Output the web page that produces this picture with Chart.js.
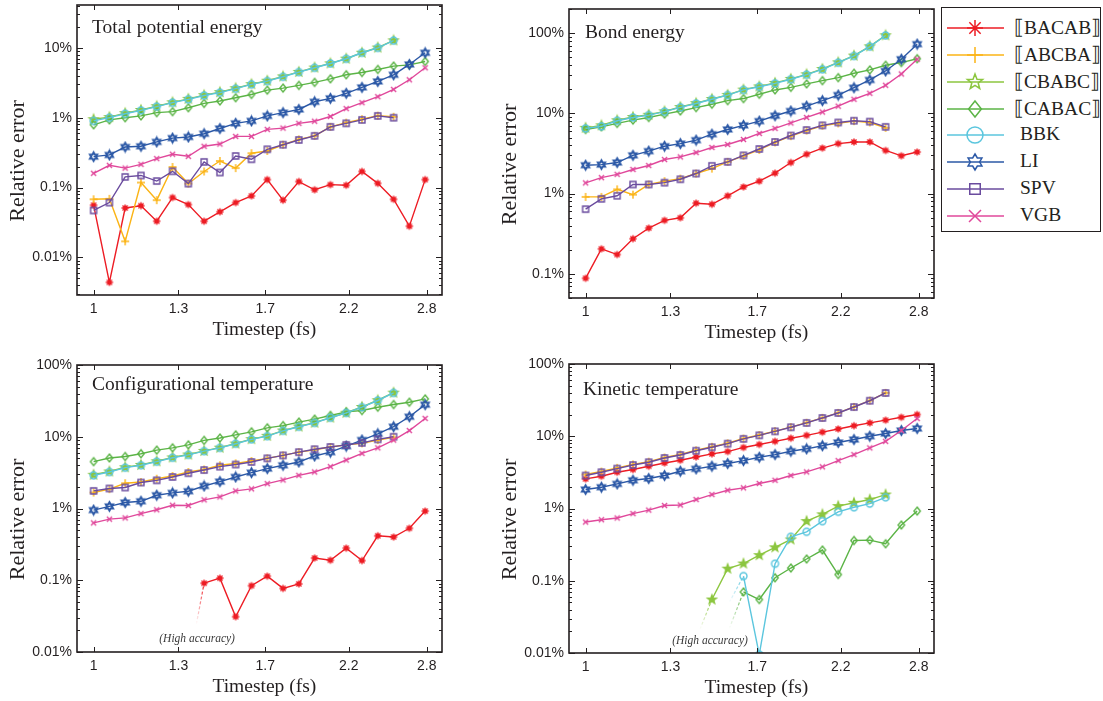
<!DOCTYPE html>
<html>
<head>
<meta charset="utf-8">
<script src="https://cdn.jsdelivr.net/npm/chart.js@4.4.1/dist/chart.umd.min.js"></script>
<style>
  body { margin: 0; background: #fff; width: 1103px; height: 701px; position: relative; overflow: hidden; }
  canvas.panel { position: absolute; }
  #legend { position: absolute; left: 941px; top: 7px; width: 160px; height: 225px; border: 1.3px solid #231f20; box-sizing: border-box; }
  .lg-row { position: absolute; height: 24px; }
  .lg-row canvas { position: absolute; left: 0; top: 1px; }
  .lg-row span { position: absolute; top: 0; line-height: 24px; font: 19.5px "Liberation Serif", serif; color: #231f20; white-space: nowrap; }
</style>
</head>
<body>
<canvas id="pot" class="panel"></canvas>
<canvas id="bond" class="panel"></canvas>
<canvas id="conf" class="panel"></canvas>
<canvas id="kin" class="panel"></canvas>
<div id="legend"></div>

<script>
const _ = null;

// timesteps (fs), tick positions
const timestep = [1.0, 1.05, 1.1025, 1.1576, 1.2155, 1.2763, 1.3401, 1.4071, 1.4775, 1.5513, 1.6289,
                  1.7103, 1.7959, 1.8856, 1.9799, 2.0789, 2.1829, 2.292, 2.4066, 2.527, 2.6533, 2.786];
const xTicks = [1, 1.3, 1.7, 2.2, 2.8];
const yTicks = [0.01, 0.1, 1, 10, 100];

const names = ['⟦BACAB⟧', '⟦ABCBA⟧', '⟦CBABC⟧', '⟦CABAC⟧', 'BBK', 'LI', 'SPV', 'VGB'];

// relative error in %, one row per integrator (same order as names)
const potential = [
  [0.056, 0.0044, 0.051, 0.055, 0.033, 0.072, 0.057, 0.033, 0.045, 0.061, 0.076, 0.13, 0.066, 0.122, 0.093, 0.11, 0.108, 0.17, 0.115, 0.068, 0.028, 0.13],
  [0.068, 0.069, 0.017, 0.118, 0.066, 0.197, 0.114, 0.17, 0.24, 0.19, 0.31, 0.334, 0.41, 0.49, 0.55, 0.74, 0.85, 0.95, 1.07, 1.03, _, _],
  [0.95, 1.02, 1.16, 1.29, 1.46, 1.66, 1.86, 2.1, 2.32, 2.64, 3.02, 3.38, 3.9, 4.52, 5.22, 6.0, 7.0, 8.5, 10.1, 12.8, _, _],
  [0.79, 0.93, 1.0, 1.06, 1.18, 1.22, 1.39, 1.6, 1.73, 1.93, 2.15, 2.48, 2.65, 2.9, 3.2, 3.6, 4.11, 4.44, 4.9, 5.47, 5.7, 6.38],
  [0.9, 1.0, 1.14, 1.27, 1.44, 1.64, 1.83, 2.08, 2.28, 2.6, 3.0, 3.34, 3.85, 4.49, 5.18, 5.97, 6.97, 8.49, 10.0, 12.7, _, _],
  [0.277, 0.293, 0.38, 0.39, 0.45, 0.51, 0.53, 0.59, 0.7, 0.83, 0.9, 1.06, 1.18, 1.31, 1.69, 1.89, 2.23, 2.71, 3.3, 4.11, 5.78, 8.49],
  [0.047, 0.061, 0.142, 0.149, 0.124, 0.171, 0.114, 0.233, 0.164, 0.283, 0.254, 0.353, 0.41, 0.48, 0.55, 0.74, 0.83, 0.93, 1.06, 1.0, _, _],
  [0.16, 0.208, 0.19, 0.215, 0.26, 0.3, 0.28, 0.39, 0.42, 0.54, 0.54, 0.68, 0.71, 0.83, 0.89, 1.04, 1.35, 1.64, 2.0, 2.54, 3.49, 5.18]
];

const bond = [
  [0.088, 0.205, 0.174, 0.274, 0.372, 0.464, 0.5, 0.76, 0.736, 0.94, 1.21, 1.43, 1.8, 2.44, 3.1, 3.69, 4.2, 4.4, 4.4, 3.45, 2.96, 3.3],
  [0.91, 0.91, 1.13, 0.97, 1.3, 1.43, 1.54, 1.78, 2.05, 2.49, 2.95, 3.5, 4.35, 5.2, 6.1, 7.0, 7.5, 8.0, 7.7, 6.6, _, _],
  [6.6, 7.1, 8.2, 9.0, 9.6, 10.6, 12.0, 13.4, 15.1, 17.0, 19.8, 21.7, 24.0, 26.9, 30.7, 35.8, 43.3, 52.5, 68.5, 94, _, _],
  [6.3, 6.8, 7.5, 8.25, 8.9, 9.8, 10.7, 11.8, 13.0, 14.4, 15.3, 17.3, 19.6, 21.1, 23.3, 25.6, 27.9, 31.6, 34.8, 39.8, 43, 48],
  [6.5, 6.9, 8.1, 8.9, 9.5, 10.5, 11.9, 13.3, 15.0, 16.9, 19.6, 21.5, 23.7, 26.6, 30.4, 35.4, 42.9, 52, 68, 93.5, _, _],
  [2.26, 2.3, 2.44, 3.0, 3.38, 3.9, 4.2, 4.64, 5.5, 6.3, 7.1, 8.0, 9.35, 10.7, 12.3, 14.4, 16.9, 20.9, 26.1, 33.8, 47.3, 72.9],
  [0.64, 0.86, 0.94, 1.3, 1.3, 1.37, 1.51, 1.78, 2.22, 2.49, 3.0, 3.6, 4.4, 5.3, 6.2, 7.1, 7.7, 8.1, 7.9, 6.8, _, _],
  [1.36, 1.58, 1.74, 2.0, 2.24, 2.66, 2.87, 3.25, 3.76, 4.1, 4.73, 5.62, 6.5, 7.6, 8.9, 10.4, 12.3, 15, 17.8, 22.4, 31, 47.3]
];

const configTemp = [
  [_, _, _, _, _, _, _, 0.091, 0.107, 0.031, 0.084, 0.114, 0.077, 0.089, 0.204, 0.19, 0.28, 0.188, 0.417, 0.4, 0.53, 0.92],
  [1.67, 1.86, 2.25, 2.34, 2.6, 2.84, 3.23, 3.5, 4.0, 4.26, 4.6, 5.0, 5.5, 6.1, 6.6, 7.2, 7.7, 8.1, 9.0, 9.8, _, _],
  [2.95, 3.28, 3.76, 4.05, 4.55, 5.15, 5.65, 6.35, 7.05, 8.05, 9.25, 10.3, 12.2, 13.9, 15.7, 18.5, 21.6, 26, 32.3, 41.2, _, _],
  [4.5, 5.06, 5.3, 5.8, 6.5, 7.0, 7.7, 8.9, 9.6, 10.6, 11.7, 13.3, 14.3, 16, 17.6, 19.8, 22.2, 23.2, 25.8, 28.1, 30.3, 33.7],
  [2.9, 3.23, 3.71, 4.0, 4.5, 5.1, 5.6, 6.3, 7.0, 8.0, 9.2, 10.2, 12.1, 13.8, 15.6, 18.4, 21.5, 25.8, 32, 40.8, _, _],
  [0.95, 1.07, 1.21, 1.26, 1.53, 1.65, 1.74, 2.06, 2.37, 2.75, 3.16, 3.6, 4.0, 4.45, 5.4, 6.1, 7.4, 9.0, 11, 13.8, 19, 28],
  [1.76, 1.9, 1.96, 2.3, 2.47, 2.75, 3.1, 3.44, 3.83, 4.1, 4.45, 5.0, 5.5, 6.1, 6.7, 7.2, 7.7, 8.2, 9.2, 10.0, _, _],
  [0.63, 0.71, 0.74, 0.85, 0.96, 1.11, 1.1, 1.32, 1.45, 1.76, 1.88, 2.22, 2.5, 2.9, 3.23, 3.83, 4.74, 5.86, 7.0, 9.0, 12.2, 18]
];

const kineticTemp = [
  [2.57, 2.8, 3.18, 3.46, 3.85, 4.27, 4.66, 5.17, 5.7, 6.14, 7.0, 7.7, 8.5, 9.4, 10.3, 11.4, 12.6, 14.0, 15.3, 16.7, 18.3, 20],
  [2.95, 3.25, 3.65, 4.08, 4.45, 5.08, 5.6, 6.4, 7.15, 8.0, 9.3, 10.4, 11.8, 13.4, 15.4, 18.0, 21.1, 25.5, 31.2, 39.9, _, _],
  [_, _, _, _, _, _, _, _, 0.055, 0.147, 0.173, 0.226, 0.29, 0.373, 0.67, 0.83, 1.08, 1.2, 1.33, 1.56, _, _],
  [_, _, _, _, _, _, _, _, _, _, 0.07, 0.055, 0.11, 0.15, 0.2, 0.266, 0.122, 0.36, 0.365, 0.325, 0.59, 0.92],
  [_, _, _, _, _, _, _, _, _, _, 0.116, 0.0095, 0.172, 0.406, 0.476, 0.668, 0.9, 1.04, 1.17, 1.43, _, _],
  [1.83, 1.97, 2.19, 2.46, 2.6, 2.86, 3.28, 3.54, 3.85, 4.19, 4.6, 5.12, 5.57, 6.2, 6.7, 7.4, 8.2, 9.0, 10.0, 10.9, 12.0, 12.8],
  [2.86, 3.18, 3.57, 4.0, 4.37, 5.0, 5.5, 6.3, 7.05, 7.9, 9.2, 10.3, 11.7, 13.3, 15.3, 17.9, 21, 25.4, 31, 39.7, _, _],
  [0.65, 0.7, 0.74, 0.85, 0.95, 1.1, 1.12, 1.33, 1.56, 1.79, 1.93, 2.22, 2.46, 2.86, 3.21, 3.77, 4.6, 5.57, 6.9, 8.5, 12, 17.6]
];

// dashed lead-ins below the first plotted point: [series, timestep, error %]
const configTails = [[0, 1.374, 0.0245]];
const kineticTails = [[2, 1.424, 0.0212], [4, 1.559, 0.05], [3, 1.559, 0.0217]];

const ink = '#231f20';
const colors = ['#ed1c24', '#fbb416', '#8cc63f', '#5bb446', '#5bc6de', '#2b58a6', '#6a4b9e', '#e0489b'];
const markKinds = ['asterisk', 'plus', 'star', 'diamond', 'circle', 'hexagram', 'square', 'cross'];

function makeMarker(kind, color, r, big) {
  const size = Math.ceil(2 * r + 4);
  const c = document.createElement('canvas');
  c.width = c.height = size;
  const g = c.getContext('2d');
  const m = size / 2;
  g.strokeStyle = color;
  g.fillStyle = color;
  g.lineWidth = big ? 1.5 : (kind === 'hexagram' ? 2 : 1.4);
  g.lineJoin = 'miter';
  g.beginPath();
  const poly = (n, inner, start) => {
    for (let i = 0; i < 2 * n; i++) {
      const rr = i % 2 ? r * inner : r;
      const a = start + i * Math.PI / n;
      i ? g.lineTo(m + rr * Math.cos(a), m + rr * Math.sin(a)) : g.moveTo(m + rr * Math.cos(a), m + rr * Math.sin(a));
    }
    g.closePath();
  };
  switch (kind) {
    case 'asterisk':
      for (let i = 0; i < 4; i++) {
        const a = i * Math.PI / 4;
        g.moveTo(m + r * Math.cos(a), m + r * Math.sin(a));
        g.lineTo(m - r * Math.cos(a), m - r * Math.sin(a));
      }
      g.stroke();
      if (!big) { g.beginPath(); g.arc(m, m, r * 0.6, 0, 2 * Math.PI); g.fill(); }
      break;
    case 'plus':
      g.moveTo(m - r, m); g.lineTo(m + r, m);
      g.moveTo(m, m - r); g.lineTo(m, m + r);
      g.stroke();
      break;
    case 'cross':
      const d = r * 0.75;
      g.moveTo(m - d, m - d); g.lineTo(m + d, m + d);
      g.moveTo(m - d, m + d); g.lineTo(m + d, m - d);
      g.stroke();
      break;
    case 'star':
      poly(5, 0.42, -Math.PI / 2);
      big ? g.stroke() : (g.fill(), g.stroke());
      break;
    case 'hexagram':
      poly(6, 0.58, -Math.PI / 2);
      g.stroke();
      break;
    case 'diamond':
      g.moveTo(m, m - r); g.lineTo(m + r * 0.8, m); g.lineTo(m, m + r); g.lineTo(m - r * 0.8, m);
      g.closePath();
      g.stroke();
      break;
    case 'circle':
      g.arc(m, m, r, 0, 2 * Math.PI);
      g.stroke();
      break;
    case 'square':
      g.rect(m - r * 0.75, m - r * 0.75, r * 1.5, r * 1.5);
      g.stroke();
      break;
  }
  return c;
}

const plotSizes = [3.6, 4, 4.6, 4, 3.5, 4.2, 4, 3.4];
const plotMarks = markKinds.map((k, i) => makeMarker(k, colors[i], plotSizes[i], false));

function fading(color, end, start) {
  return ctx => {
    const ch = ctx.chart;
    if (!ch.chartArea) return color;
    const y0 = ch.scales.y.getPixelForValue(end), y1 = ch.scales.y.getPixelForValue(start);
    const gr = ch.ctx.createLinearGradient(0, y0, 0, y1);
    gr.addColorStop(0, color + '00');
    gr.addColorStop(1, color);
    return gr;
  };
}

function buildSets(rows, tails) {
  const sets = rows.map((vals, i) => ({
    label: names[i],
    data: timestep.map((t, k) => ({ x: t, y: vals[k] })).filter(p => p.y !== null),
    borderColor: colors[i],
    backgroundColor: colors[i],
    borderWidth: 1.4,
    pointStyle: plotMarks[i],
    pointRadius: 4,
    pointHoverRadius: 4,
    tension: 0,
    order: 10 - i
  }));
  (tails || []).forEach(([i, tx, ty]) => {
    const first = sets[i].data[0];
    sets.push({
      data: [{ x: tx, y: ty }, first],
      borderColor: fading(colors[i], ty, first.y),
      borderWidth: 1.2,
      borderDash: [3, 2],
      pointRadius: 0,
      order: 20
    });
  });
  return sets;
}

// frame with inward ticks, panel caption and optional note
const panelDecor = {
  id: 'panelDecor',
  afterDatasetsDraw(chart, args, opts) {
    const { ctx, chartArea: a, scales: { x, y } } = chart;
    ctx.save();
    ctx.strokeStyle = ink;
    ctx.lineWidth = 1;
    ctx.beginPath();
    xTicks.forEach(v => {
      const px = Math.round(x.getPixelForValue(v)) + 0.5;
      ctx.moveTo(px, a.bottom); ctx.lineTo(px, a.bottom - 5);
      ctx.moveTo(px, a.top); ctx.lineTo(px, a.top + 5);
    });
    for (let e = -3; e <= 2; e++) {
      for (let m = 1; m <= 9; m++) {
        const v = m * Math.pow(10, e);
        if (v < y.min || v > y.max) continue;
        const py = Math.round(y.getPixelForValue(v)) + 0.5;
        const len = m === 1 ? 6 : 3;
        ctx.moveTo(a.left, py); ctx.lineTo(a.left + len, py);
        ctx.moveTo(a.right, py); ctx.lineTo(a.right - len, py);
      }
    }
    ctx.stroke();
    ctx.lineWidth = 1.6;
    ctx.strokeRect(a.left, a.top, a.right - a.left, a.bottom - a.top);

    ctx.fillStyle = ink;
    ctx.font = '19.5px "Liberation Serif", serif';
    ctx.textBaseline = 'alphabetic';
    ctx.textAlign = 'left';
    ctx.fillText(opts.title, a.left + opts.dx, a.top + opts.dy);
    if (opts.note) {
      ctx.font = 'italic 11.5px "Liberation Serif", serif';
      ctx.fillStyle = '#3a3a3a';
      ctx.textAlign = 'center';
      ctx.textBaseline = 'middle';
      ctx.fillText('(High accuracy)', x.getPixelForValue(opts.note[0]), y.getPixelForValue(opts.note[1]));
    }
    ctx.restore();
  }
};

// canvas box [left, top, width, height] and plot area [left, top, right, bottom] in page pixels
const panels = [
  { id: 'pot', rows: potential, title: 'Total potential energy', dx: 15, dy: 28,
    yMin: 0.0029, yMax: 41, box: [0, -20, 470, 365], area: [77, 5, 442, 295], yTitleX: 18, xTitleY: 330 },
  { id: 'bond', rows: bond, title: 'Bond energy', dx: 16, dy: 28.5,
    yMin: 0.05, yMax: 200, box: [490, -20, 450, 365], area: [569, 9, 934, 298], yTitleX: 510, xTitleY: 333 },
  { id: 'conf', rows: configTemp, tails: configTails, title: 'Configurational temperature', dx: 15, dy: 25,
    note: [1.377, 0.0152],
    yMin: 0.01, yMax: 100, box: [0, 345, 470, 356], area: [77, 365, 442, 652], yTitleX: 18, xTitleY: 687 },
  { id: 'kin', rows: kineticTemp, tails: kineticTails, title: 'Kinetic temperature', dx: 14, dy: 30.5,
    note: [1.469, 0.0149],
    yMin: 0.01, yMax: 100, box: [490, 345, 450, 356], area: [569, 364, 934, 653], yTitleX: 510, xTitleY: 688 }
];

const tickFont = { family: '"Liberation Sans", Arial, sans-serif', size: 14 };
const titleFontY = { family: '"Liberation Serif", serif', size: 22 };
const titleFontX = { family: '"Liberation Serif", serif', size: 19.5 };

panels.forEach(p => {
  const [bx, by, bw, bh] = p.box;
  const [al, at, ar, ab] = p.area;
  const cv = document.getElementById(p.id);
  cv.width = bw; cv.height = bh;
  cv.style.left = bx + 'px'; cv.style.top = by + 'px';
  cv.style.width = bw + 'px'; cv.style.height = bh + 'px';

  new Chart(cv, {
    type: 'line',
    data: { datasets: buildSets(p.rows, p.tails) },
    plugins: [panelDecor],
    options: {
      responsive: false,
      animation: false,
      events: [],
      layout: { padding: { left: 0, top: at - by, right: bx + bw - ar, bottom: 0 } },
      plugins: {
        legend: { display: false },
        tooltip: { enabled: false },
        panelDecor: { title: p.title, dx: p.dx, dy: p.dy, note: p.note }
      },
      scales: {
        x: {
          type: 'logarithmic',
          min: 0.95,
          max: 2.935,
          afterBuildTicks: s => { s.ticks = xTicks.map(v => ({ value: v })); },
          afterFit: s => { s.height = by + bh - ab; },
          ticks: { callback: v => String(v), font: tickFont, color: ink, padding: 6, maxRotation: 0, autoSkip: false },
          grid: { display: false, drawTicks: false },
          border: { display: false },
          title: {
            display: true, text: '\u2002Timestep (fs)', font: titleFontX, color: ink,
            padding: { top: 0, bottom: by + bh - p.xTitleY - titleFontX.size * 0.6 }
          }
        },
        y: {
          type: 'logarithmic',
          min: p.yMin,
          max: p.yMax,
          afterBuildTicks: s => { s.ticks = yTicks.filter(v => v >= s.min && v <= s.max).map(v => ({ value: v })); },
          afterFit: s => { s.width = al - bx; },
          ticks: { callback: v => v + '%', font: tickFont, color: ink, padding: 5, autoSkip: false },
          grid: { display: false, drawTicks: false },
          border: { display: false },
          title: {
            display: true, text: 'Relative error\u2002\u2002', font: titleFontY, color: ink,
            padding: { top: p.yTitleX - bx - titleFontY.size * 0.6, bottom: 0 }
          }
        }
      }
    }
  });
});

// legend: line sample with marker, then the integrator name
const legend = document.getElementById('legend');
names.forEach((name, i) => {
  const row = document.createElement('div');
  row.className = 'lg-row';
  row.style.left = '5px';
  row.style.top = (8 + i * 26.85) + 'px';
  const c = document.createElement('canvas');
  c.width = 58; c.height = 22;
  const g = c.getContext('2d');
  g.strokeStyle = colors[i];
  g.lineWidth = 1.5;
  g.beginPath(); g.moveTo(0, 11); g.lineTo(57, 11); g.stroke();
  const mk = makeMarker(markKinds[i], colors[i], i === 6 ? 7 : 8, true);
  g.drawImage(mk, 28 - mk.width / 2, 11 - mk.height / 2);
  row.appendChild(c);
  const t = document.createElement('span');
  t.textContent = name;
  t.style.left = (name.startsWith('⟦') ? 67 : 73) + 'px';
  row.appendChild(t);
  legend.appendChild(row);
});
</script>
</body>
</html>
